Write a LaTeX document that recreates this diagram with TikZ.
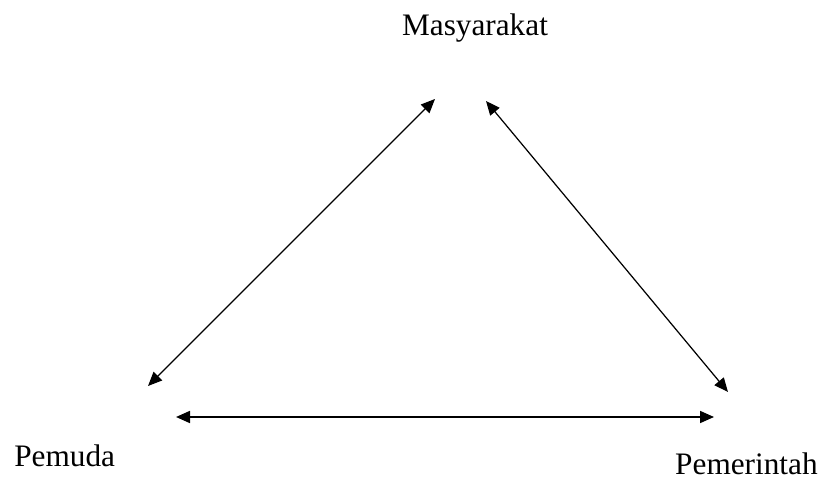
\documentclass[tikz,border=0pt]{standalone}
\usepackage{fontspec}
\setmainfont{Liberation Serif}
\usetikzlibrary{arrows.meta}
\tikzset{
  pihak/.style={font=\fontsize{17.8}{21}\selectfont, inner sep=0pt},
  hubungan/.style={{Triangle[length=2.8mm,width=2.4mm]}-{Triangle[length=2.8mm,width=2.4mm]}, line width=0.7pt}
}
\begin{document}
\begin{tikzpicture}[x=0.02cm, y=-0.02cm]
  \useasboundingbox (0,0) rectangle (821,479);
  \node[pihak, anchor=base] (mas) at (475,36) {Masyarakat};
  \node[pihak, anchor=base west] (pem) at (14,466) {Pemuda};
  \node[pihak, anchor=base east] (gov) at (818,474) {Pemerintah};
  % ujung panah
  \coordinate (mas-l) at (435,99);
  \coordinate (mas-r) at (486,101);
  \coordinate (pem-t) at (148,386);
  \coordinate (pem-r) at (176,417);
  \coordinate (gov-t) at (728,392);
  \coordinate (gov-l) at (714,417);
  \foreach \a/\b/\w in {pem-t/mas-l/0.7pt, mas-r/gov-t/0.7pt, pem-r/gov-l/1pt}
    \draw[hubungan, line width=\w] (\a) -- (\b);
\end{tikzpicture}
\end{document}
